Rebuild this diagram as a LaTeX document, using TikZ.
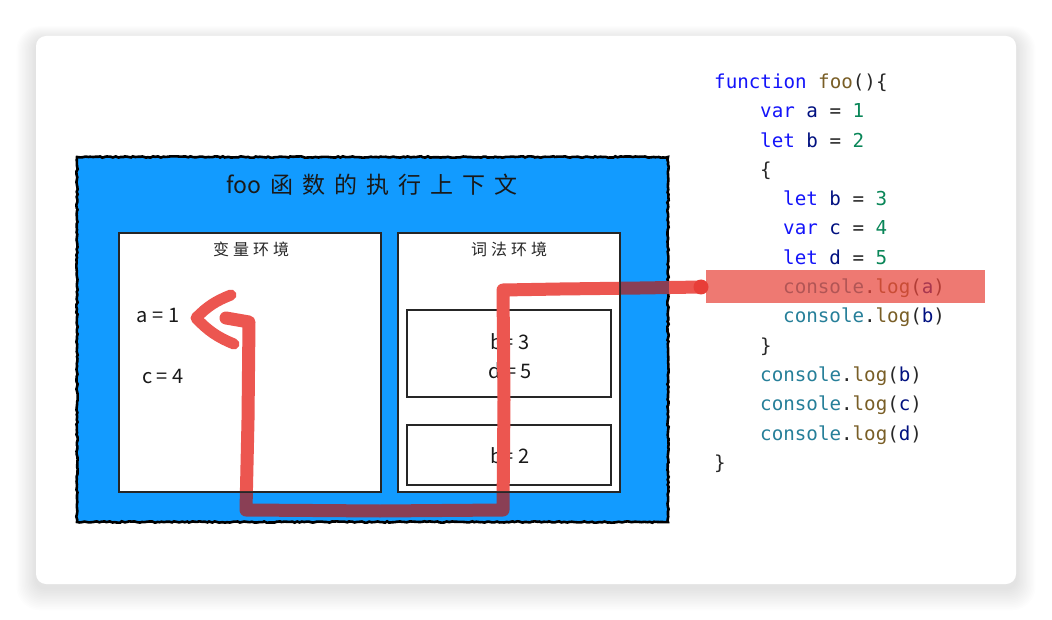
\documentclass[tikz,border=0pt]{standalone}
\usepackage{fontspec}
\setmonofont{DejaVu Sans Mono}
\newfontfamily\cjk{Noto Sans CJK SC}
\usetikzlibrary{decorations.pathmorphing}
\definecolor{cardshadow}{RGB}{0,0,0}
\definecolor{boxblue}{RGB}{18,155,255}
\definecolor{penred}{RGB}{236,86,80}
\definecolor{penmaroon}{RGB}{138,63,85}
\definecolor{dotred}{RGB}{232,62,56}
\definecolor{hlred}{RGB}{232,70,60}
\definecolor{kwc}{RGB}{20,20,250}
\definecolor{fnc}{RGB}{121,94,38}
\definecolor{idc}{RGB}{0,16,128}
\definecolor{numc}{RGB}{9,134,88}
\definecolor{conc}{RGB}{38,127,153}
\definecolor{punc}{RGB}{40,40,40}
\newcommand\ckw[1]{\textcolor{kwc}{#1}}
\newcommand\cfn[1]{\textcolor{fnc}{#1}}
\newcommand\cid[1]{\textcolor{idc}{#1}}
\newcommand\cnum[1]{\textcolor{numc}{#1}}
\newcommand\ccon[1]{\textcolor{conc}{#1}}
\newcommand\codefont{\ttfamily\fontsize{19.2}{23}\selectfont}
\tikzset{
  code/.style={anchor=base west, inner sep=0pt, font=\codefont, text=punc},
  whitebox/.style={fill=white, draw=black!85, line width=2pt},
  innerbox/.style={draw=black!85, line width=2pt},
  lbl/.style={inner sep=0pt, font=\cjk\fontsize{16}{18}\selectfont, text=black!85},
  val/.style={inner sep=0pt, font=\cjk\fontsize{20}{22}\selectfont, text=black!90, align=center},
  pen/.style={line width=13pt, line cap=round, line join=round},
}
\begin{document}
\begin{tikzpicture}[x=1pt,y=-1pt]
\useasboundingbox (0,0) rectangle (1052,620);
% card with shadow
\foreach \i in {1,...,14}{
  \fill[cardshadow, opacity=0.008, rounded corners=10+\i]
    (36-1.4*\i,36-1.0*\i+4) rectangle (1016+1.4*\i,584+1.6*\i+4);
}
\fill[white, rounded corners=10] (36,36) rectangle (1016,584);

% blue execution context
\fill[boxblue] (77,157) rectangle (668,522);
\draw[black, line width=2.6pt, decorate,
      decoration={random steps, segment length=2.5pt, amplitude=0.7pt}]
  (77,157) rectangle (668,522);

% red path coordinates
\coordinate (r0) at (701,287);
\coordinate (r1) at (640,288);
\coordinate (r2) at (560,289);
\coordinate (r3) at (503,290);
\coordinate (r4) at (504,400);
\coordinate (r5) at (503,510);
\coordinate (r6) at (380,511);
\coordinate (r7) at (246,510);
\coordinate (r8) at (248,420);
\coordinate (r9) at (249,322);
\coordinate (r10) at (226,318);
\coordinate (tip) at (196,318);
\coordinate (bar1) at (231,295);
\coordinate (bar2) at (234,344);

% maroon part over blue
\begin{scope}
\clip (77,157) rectangle (670,522);
\draw[pen, penmaroon] (r0) -- (r1) -- (r2) -- (r3) -- (r4) -- (r5) -- (r6) -- (r7) -- (r8) -- (r9) -- (r10);
\end{scope}

% white environment boxes
\node[whitebox, minimum width=262pt, minimum height=259pt, inner sep=0pt] (ve) at (250,362.5) {};
\node[whitebox, minimum width=222pt, minimum height=259pt, inner sep=0pt] (le) at (509,362.5) {};
\node[innerbox, minimum width=204pt, minimum height=87pt, inner sep=0pt] (blk) at (509,353.5) {};
\node[innerbox, minimum width=204pt, minimum height=60pt, inner sep=0pt] (fnb) at (509,455) {};

% texts
\node[inner sep=0pt, font=\cjk\fontsize{23}{26}\selectfont, text=black!90] (title) at (372,185)
  {foo\hspace{9pt}函\hspace{9pt}数\hspace{9pt}的\hspace{9pt}执\hspace{9pt}行\hspace{9pt}上\hspace{9pt}下\hspace{9pt}文};
\node[lbl] (vel) at (251,249) {变\hspace{4pt}量\hspace{4pt}环\hspace{4pt}境};
\node[lbl] (lel) at (509,249) {词\hspace{4pt}法\hspace{4pt}环\hspace{4pt}境};
\node[val] (a1) at (158,316) {a = 1};
\node[val] (c4) at (163,376) {c = 4};
\node[val] (b3) at (510,342) {b= 3};
\node[val] (d5) at (510,371) {d = 5};
\node[val] (b2) at (510,456) {b= 2};

% code
\node[code] (l1)  at (714,88.5)  {\ckw{function} \cfn{foo}()\{};
\node[code] (l2)  at (760,117.8) {\ckw{var} \cid{a} = \cnum{1}};
\node[code] (l3)  at (760,147.1) {\ckw{let} \cid{b} = \cnum{2}};
\node[code] (l4)  at (760,176.4) {\{};
\node[code] (l5)  at (783,205.7) {\ckw{let} \cid{b} = \cnum{3}};
\node[code] (l6)  at (783,235.0) {\ckw{var} \cid{c} = \cnum{4}};
\node[code] (l7)  at (783,264.3) {\ckw{let} \cid{d} = \cnum{5}};
\node[code] (l8)  at (783,293.6) {\ccon{console}.\cfn{log}(\cid{a})};
\node[code] (l9)  at (783,322.9) {\ccon{console}.\cfn{log}(\cid{b})};
\node[code] (l10) at (760,352.2) {\}};
\node[code] (l11) at (760,381.5) {\ccon{console}.\cfn{log}(\cid{b})};
\node[code] (l12) at (760,410.8) {\ccon{console}.\cfn{log}(\cid{c})};
\node[code] (l13) at (760,440.1) {\ccon{console}.\cfn{log}(\cid{d})};
\node[code] (l14) at (714,469.4) {\}};

% highlight of current line
\fill[hlred, opacity=0.72] (706,270) rectangle (985,303);
\node[inner sep=0pt, minimum width=279pt, minimum height=33pt] (hl) at (845.5,286.5) {};

% red part over white areas
\begin{scope}
\clip (120,234) rectangle (380,491)
      (399,234) rectangle (619,491)
      (669,0) rectangle (1052,620);
\draw[pen, penred] (r0) -- (r1) -- (r2) -- (r3) -- (r4) -- (r5) -- (r6) -- (r7) -- (r8) -- (r9) -- (r10);
\end{scope}
\draw[pen, penred, line width=11pt] (bar1) to[bend right=12] (tip) to[bend right=12] (bar2);
\fill[dotred] (r0) circle (7.5pt);
\end{tikzpicture}
\end{document}
